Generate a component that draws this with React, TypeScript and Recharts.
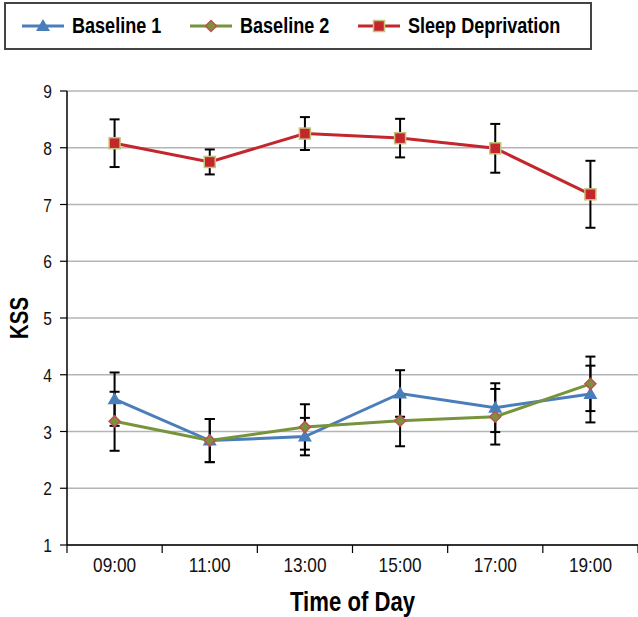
import React from 'react';
import {
  LineChart,
  Line,
  XAxis,
  YAxis,
  CartesianGrid,
  Legend,
  ErrorBar,
  Label,
} from 'recharts';

// no narrow face installed: Liberation Sans squeezed horizontally stands in for Arial Narrow
const FONT = "'Liberation Sans', Arial, sans-serif";
const SQUEEZE = 0.82;

const times = ['09:00', '11:00', '13:00', '15:00', '17:00', '19:00'];
const kssTicks = [1, 2, 3, 4, 5, 6, 7, 8, 9];

const baseline1 = [3.57, 2.84, 2.91, 3.67, 3.42, 3.66];
const baseline1Err = [0.47, 0.38, 0.33, 0.41, 0.43, 0.5];
const baseline2 = [3.18, 2.84, 3.08, 3.19, 3.26, 3.84];
const baseline2Err = [0.52, 0.38, 0.4, 0.45, 0.49, 0.48];
const sleepDep = [8.08, 7.75, 8.25, 8.17, 7.99, 7.18];
const sleepDepErr = [0.42, 0.22, 0.29, 0.34, 0.43, 0.59];

const BLUE = '#4a7ebb';
const GREEN = '#77933c';
const RED = '#c3262c';
const DIAMOND_EDGE = '#c0504d';
const SQUARE_EDGE = '#c4c47a';

const data = times.map((time, i) => ({
  time,
  b1: baseline1[i],
  b1Err: baseline1Err[i],
  b2: baseline2[i],
  b2Err: baseline2Err[i],
  sd: sleepDep[i],
  sdErr: sleepDepErr[i],
}));

const Triangle = ({ cx, cy }: { cx: number; cy: number }) => (
  <polygon points={`${cx},${cy - 7} ${cx - 7},${cy + 5} ${cx + 7},${cy + 5}`} fill={BLUE} />
);
const Diamond = ({ cx, cy }: { cx: number; cy: number }) => (
  <polygon
    points={`${cx},${cy - 5.5} ${cx + 5.5},${cy} ${cx},${cy + 5.5} ${cx - 5.5},${cy}`}
    fill={GREEN}
    stroke={DIAMOND_EDGE}
    strokeWidth={1.5}
  />
);
const Square = ({ cx, cy }: { cx: number; cy: number }) => (
  <rect x={cx - 5.5} y={cy - 5.5} width={11} height={11} fill={RED} stroke={SQUARE_EDGE} strokeWidth={1.5} />
);

const dotOf = (Shape: any) => (props: any) => {
  const { cx, cy, index } = props;
  if (cx == null || cy == null) return <g key={`e-${index}`} />;
  return <Shape key={`d-${index}`} cx={cx} cy={cy} />;
};

const legendItems = [
  { label: 'Baseline 1', color: BLUE, Shape: Triangle },
  { label: 'Baseline 2', color: GREEN, Shape: Diamond },
  { label: 'Sleep Deprivation', color: RED, Shape: Square },
];

const renderLegend = () => (
  <div
    style={{
      boxSizing: 'border-box',
      height: 48,
      border: '2px solid #444',
      display: 'flex',
      alignItems: 'center',
      paddingLeft: 16,
      fontFamily: FONT,
      fontWeight: 'bold',
      fontSize: 22,
      color: '#000',
      whiteSpace: 'nowrap',
    }}
  >
    {legendItems.map(({ label, color, Shape }) => (
      <div key={label} style={{ display: 'flex', alignItems: 'center', width: 168 }}>
        <svg width={42} height={18} style={{ marginRight: 8, flex: 'none' }}>
          <line x1={0} y1={9} x2={42} y2={9} stroke={color} strokeWidth={3} />
          <Shape cx={21} cy={9} />
        </svg>
        <span style={{ display: 'inline-block', transform: `scaleX(${SQUEEZE})`, transformOrigin: 'left center' }}>
          {label}
        </span>
      </div>
    ))}
  </div>
);

const NarrowText = ({ x, y, anchor, size, bold, angle = 0, children }: any) => (
  <text
    transform={`translate(${x},${y}) rotate(${angle}) scale(${SQUEEZE},1)`}
    textAnchor={anchor}
    fontFamily={FONT}
    fontSize={size}
    fontWeight={bold ? 'bold' : 'normal'}
    fill={bold ? '#000' : '#111'}
  >
    {children}
  </text>
);

const TimeTick = (props: any) => {
  const { x, y, payload, index, visibleTicksCount } = props;
  const half = payload.offset ?? 0;
  return (
    <g>
      <line x1={x - half} y1={y} x2={x - half} y2={y + 8} stroke="#000" strokeWidth={1.2} />
      {index === visibleTicksCount - 1 && (
        <line x1={x + half} y1={y} x2={x + half} y2={y + 8} stroke="#000" strokeWidth={1.2} />
      )}
      <NarrowText x={x} y={y + 27} anchor="middle" size={21}>
        {payload.value}
      </NarrowText>
    </g>
  );
};

const KssTick = (props: any) => {
  const { x, y, payload } = props;
  return (
    <NarrowText x={x} y={y + 7} anchor="end" size={19}>
      {payload.value}
    </NarrowText>
  );
};

const XTitle = ({ viewBox }: any) => (
  <NarrowText x={viewBox.x + viewBox.width / 2} y={viewBox.y + viewBox.height - 6} anchor="middle" size={27} bold>
    Time of Day
  </NarrowText>
);

const YTitle = ({ viewBox }: any) => (
  <NarrowText
    x={viewBox.x + viewBox.width / 2 - 6}
    y={viewBox.y + viewBox.height / 2}
    anchor="middle"
    size={25}
    bold
    angle={-90}
  >
    KSS
  </NarrowText>
);

export default function App() {
  return (
    <div style={{ position: 'absolute', left: 0, top: 0, background: '#fff' }}>
      <LineChart
        width={638}
        height={617}
        data={data}
        margin={{ top: 43, right: 0, bottom: 0, left: 0 }}
      >
        <CartesianGrid vertical={false} stroke="#b4b4b4" strokeWidth={1.5} />
        <Legend
          verticalAlign="top"
          content={renderLegend}
          wrapperStyle={{ top: 2, left: 4, width: 588 }}
        />
        <XAxis
          dataKey="time"
          scale="band"
          height={72}
          tickLine={false}
          tickSize={0}
          tickMargin={0}
          tick={<TimeTick />}
          axisLine={{ stroke: '#000', strokeWidth: 1.5 }}
        >
          <Label content={<XTitle />} />
        </XAxis>
        <YAxis
          width={67}
          domain={[1, 9]}
          ticks={kssTicks}
          interval={0}
          tickSize={7}
          tickMargin={8}
          tickLine={{ stroke: '#000', strokeWidth: 1.2 }}
          axisLine={{ stroke: '#000', strokeWidth: 1.5 }}
          tick={<KssTick />}
        >
          <Label content={<YTitle />} />
        </YAxis>
        <Line
          dataKey="b1"
          stroke={BLUE}
          strokeWidth={3}
          dot={dotOf(Triangle)}
          activeDot={false}
          isAnimationActive={false}
        >
          <ErrorBar dataKey="b1Err" width={5} stroke="#000" strokeWidth={2} />
        </Line>
        <Line
          dataKey="b2"
          stroke={GREEN}
          strokeWidth={3}
          dot={dotOf(Diamond)}
          activeDot={false}
          isAnimationActive={false}
        >
          <ErrorBar dataKey="b2Err" width={5} stroke="#000" strokeWidth={2} />
        </Line>
        <Line
          dataKey="sd"
          stroke={RED}
          strokeWidth={3}
          dot={dotOf(Square)}
          activeDot={false}
          isAnimationActive={false}
        >
          <ErrorBar dataKey="sdErr" width={5} stroke="#000" strokeWidth={2} />
        </Line>
      </LineChart>
    </div>
  );
}
